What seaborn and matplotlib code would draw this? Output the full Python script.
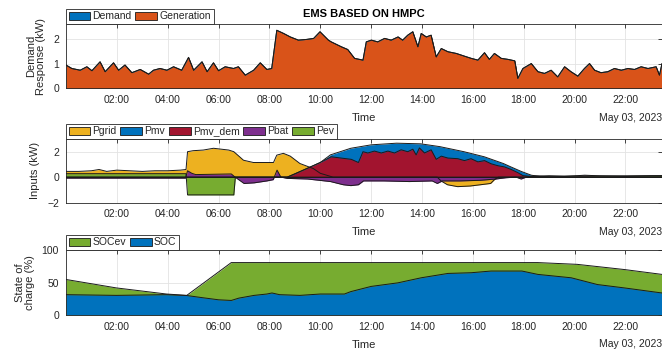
import numpy as np
import matplotlib
matplotlib.use("Agg")
import matplotlib.pyplot as plt
from matplotlib.patches import Patch
from matplotlib.ticker import FixedLocator, FuncFormatter
import seaborn as sns

# ------------------------------------------
# data (hours of May 03, 2023)
# ------------------------------------------
x_end = 23.44

# demand response panel
gen_t = [0.0, 0.23, 0.56, 0.82, 1.02, 1.34, 1.54, 1.87, 2.07, 2.32,
         2.59, 2.92, 3.25, 3.44, 3.70, 3.97, 4.23, 4.55, 4.82, 5.02,
         5.35, 5.55, 5.80, 6.00, 6.26, 6.59, 6.78, 7.05, 7.38, 7.64,
         7.90, 8.09, 8.29, 8.56, 8.82, 9.14, 9.47, 9.74, 9.99, 10.32,
         10.43, 10.83, 11.08, 11.35, 11.68, 11.81, 12.01, 12.26, 12.53, 12.79,
         13.06, 13.24, 13.44, 13.64, 13.84, 13.97, 14.17, 14.36, 14.56, 14.76,
         15.02, 15.35, 15.67, 15.94, 16.20, 16.46, 16.65, 16.85, 17.12, 17.38,
         17.65, 17.77, 17.97, 18.30, 18.56, 18.82, 19.08, 19.34, 19.61, 19.86,
         20.13, 20.39, 20.59, 20.79, 21.04, 21.31, 21.57, 21.84, 22.10, 22.36,
         22.62, 22.89, 23.21, 23.34, 23.44]
gen_kw = [0.95, 0.81, 0.74, 0.88, 0.72, 1.08, 0.68, 1.04, 0.74, 0.95,
          0.64, 0.77, 0.58, 0.74, 0.81, 0.74, 0.88, 0.74, 1.26, 0.74,
          1.08, 0.68, 1.04, 0.72, 0.88, 0.81, 0.88, 0.54, 0.74, 1.04,
          0.77, 0.81, 2.36, 2.23, 2.09, 1.96, 1.99, 2.03, 2.30, 1.96,
          1.89, 1.69, 1.58, 1.22, 1.15, 1.89, 1.96, 1.89, 2.03, 1.96,
          2.09, 1.96, 2.16, 2.30, 1.69, 2.23, 2.09, 2.16, 1.28, 1.62,
          1.49, 1.42, 1.31, 1.22, 1.15, 1.45, 1.18, 1.42, 1.22, 1.18,
          1.12, 0.41, 0.81, 1.01, 0.68, 0.61, 0.74, 0.47, 0.88, 0.68,
          0.50, 0.81, 1.01, 0.74, 0.64, 0.68, 0.81, 0.74, 0.81, 0.77,
          0.88, 0.81, 0.88, 0.54, 1.01]
demand_kw = gen_kw  # hidden under generation in the original

# inputs panel
pgrid_t = [0, 0.5, 1.0, 1.3, 1.6, 2.0, 2.5, 3.0, 3.5, 4.0,
           4.5, 4.72, 4.78, 5.0, 5.4, 5.8, 6.1, 6.4, 6.6, 6.98,
           7.37, 8.16, 8.29, 8.55, 8.82, 9.2, 9.73, 10.0, 10.5, 14.6,
           14.75, 15.0, 15.4, 15.9, 16.3, 16.7, 16.85, 17.0, 23.44]
pgrid_kw = [0.45, 0.45, 0.5, 0.6, 0.45, 0.55, 0.5, 0.45, 0.5, 0.5,
            0.55, 0.6, 2.0, 2.08, 2.13, 2.27, 2.2, 2.13, 2.0, 1.33,
            1.15, 1.15, 1.73, 1.87, 1.65, 1.07, 0.67, 0.3, 0.0, 0.0,
            -0.3, -0.6, -0.75, -0.7, -0.6, -0.5, -0.2, 0.0, 0.0]

pmv_t = [0, 8.7, 9.5, 10.0, 10.4, 11.2, 12.0, 13.0, 13.95, 14.7,
         15.65, 16.45, 17.2, 17.5, 17.9, 18.3, 18.7, 19.0, 23.44]
pmv_kw = [0, 0, 0.7, 1.15, 1.75, 2.27, 2.54, 2.67, 2.62, 2.4,
          2.0, 1.6, 1.07, 0.8, 0.45, 0.15, 0.03, 0, 0]

pdem_t = [0, 8.7, 9.0, 9.5, 10.0, 10.43, 10.82, 11.22, 11.5, 11.68,
          11.87, 12.13, 12.4, 12.66, 12.92, 13.18, 13.44, 13.64, 13.77, 13.9,
          14.1, 14.36, 14.56, 14.76, 15.02, 15.41, 15.67, 15.93, 16.2, 16.46,
          16.72, 16.98, 17.25, 17.51, 17.77, 17.97, 18.3, 18.82, 23.44]
pdem_kw = [0, 0, 0.25, 0.7, 1.15, 1.6, 1.5, 1.4, 1.15, 2.0,
           1.9, 2.05, 1.9, 2.05, 1.9, 2.15, 2.0, 2.2, 1.75, 2.3,
           1.9, 2.15, 1.4, 1.65, 1.5, 1.45, 1.3, 1.45, 1.2, 1.3,
           1.05, 0.9, 0.8, 0.6, 0.35, 0.12, 0.05, 0.0, 0.0]

pbat_t = [0, 4.7, 4.78, 4.95, 5.1, 6.5, 6.65, 7.0, 7.4, 7.9,
          8.15, 8.3, 8.45, 8.7, 9.5, 10.4, 10.9, 11.2, 11.5, 11.7,
          12.5, 13.5, 14.4, 14.6, 14.8, 15.5, 16.3, 16.9, 17.3, 17.7,
          17.9, 18.1, 18.4, 19.0, 19.6, 20.4, 21.0, 22.0, 23.0, 23.44]
pbat_kw = [-0.08, -0.08, 0.5, 0.3, 0.2, 0.25, 0.0, -0.5, -0.45, -0.3,
           -0.2, 0.55, 0.0, -0.1, -0.15, -0.35, -0.6, -0.67, -0.6, -0.3,
           -0.3, -0.35, -0.3, -0.5, -0.3, -0.3, -0.25, -0.15, -0.05, 0.0,
           -0.15, 0.0, 0.1, 0.1, 0.05, 0.15, 0.1, 0.05, 0.1, 0.1]

pev_t = [0, 4.72, 4.78, 6.6, 6.66, 18.5, 19.0, 23.44]
pev_kw = [0.27, 0.27, -1.4, -1.4, 0.0, 0.0, 0.08, 0.12]

# state of charge panel
socev_t = [0, 1.98, 3.95, 4.75, 6.5, 18.55, 20.1, 21.96, 23.44]
socev_pct = [54.7, 41.7, 32.3, 30.2, 80.7, 80.7, 78, 70, 62.5]

soc_t = [0, 1.98, 3.95, 4.75, 5.3, 6.0, 6.5, 6.8, 7.4, 7.9,
         8.1, 8.4, 9.2, 10.0, 10.43, 10.95, 11.2, 12.0, 13.05, 13.97,
         15.02, 15.94, 16.72, 17.93, 18.56, 19.87, 20.9, 21.96, 23.44]
soc_pct = [31.3, 30.2, 31.3, 30.0, 27.0, 23.4, 22.4, 26.0, 30.2, 32.3,
           33.9, 31.3, 30.2, 32.3, 32.3, 32.3, 36.0, 44.0, 49.5, 57.3,
           64.0, 65.1, 67.7, 67.7, 62.5, 57.3, 46.9, 41.7, 33.9]

# MATLAB default colours
c_blue, c_orange, c_yellow = "#0072BD", "#D95319", "#EDB120"
c_purple, c_green, c_red = "#7E2F8E", "#77AC30", "#A2142F"
txt = "#262626"

# ------------------------------------------
# style
# ------------------------------------------
sns.set_style("white")
plt.rcParams["font.family"] = ["Liberation Sans", "DejaVu Sans"]
plt.rcParams["axes.edgecolor"] = txt
plt.rcParams["axes.linewidth"] = 0.6


def area(ax, t, v, color):
    ax.fill_between(t, 0, v, color=color, lw=0, zorder=2)
    sns.lineplot(x=t, y=v, color="#1a1a1a", lw=0.7, ax=ax, zorder=3,
                 legend=False)


def style_axis(ax, ylim, yticks, ylabel, labels, colors):
    ax.set_xlim(0, x_end)
    ax.set_ylim(*ylim)
    ax.axhline(0, color="#1a1a1a", lw=0.7, zorder=3)
    ax.xaxis.set_major_locator(FixedLocator(range(2, 24, 2)))
    ax.xaxis.set_major_formatter(FuncFormatter(lambda h, p: f"{int(h):02d}:00"))
    ax.set_yticks(yticks)
    ax.grid(True, color="#e3e3e3", lw=0.6)
    ax.set_axisbelow(True)
    ax.tick_params(direction="in", top=True, right=True, length=3, width=0.6,
                   labelsize=7.5, colors=txt, pad=5)
    ax.set_xlabel("Time", fontsize=8, color=txt, labelpad=5.5)
    ax.set_ylabel(ylabel, fontsize=8, color=txt, labelpad=5, linespacing=1.0)
    ax.annotate("May 03, 2023", xy=(1, 0), xycoords="axes fraction",
                xytext=(0, -17.5), textcoords="offset points",
                ha="right", va="top", fontsize=7.5, color=txt)
    handles = [Patch(facecolor=c, edgecolor="#1a1a1a", lw=0.6) for c in colors]
    leg = ax.legend(handles, labels, loc="lower left", bbox_to_anchor=(0, 1),
                    borderaxespad=0, ncol=len(labels), fontsize=7.5,
                    handlelength=2.1, handleheight=0.85, handletextpad=0.2,
                    columnspacing=0.35, borderpad=0.25, fancybox=False,
                    framealpha=1)
    leg.get_frame().set_edgecolor(txt)
    leg.get_frame().set_linewidth(0.6)
    for s in ax.spines.values():
        s.set_visible(True)


fig = plt.figure(figsize=(6.62, 3.51), dpi=100)
ax1 = fig.add_axes([0.0997, 0.748, 0.9003, 0.184])
ax2 = fig.add_axes([0.0997, 0.423, 0.9003, 0.181])
ax3 = fig.add_axes([0.0997, 0.1026, 0.9003, 0.185])

# panel 1
area(ax1, gen_t, demand_kw, c_blue)
area(ax1, gen_t, gen_kw, c_orange)
style_axis(ax1, (0, 2.62), [0, 1, 2], "Demand\nResponse (kW)",
           ["Demand", "Generation"], [c_blue, c_orange])
ax1.set_title("EMS BASED ON HMPC", fontsize=8, fontweight="bold",
              color="black", pad=5)

# panel 2
area(ax2, pgrid_t, pgrid_kw, c_yellow)
area(ax2, pmv_t, pmv_kw, c_blue)
area(ax2, pdem_t, pdem_kw, c_red)
area(ax2, pbat_t, pbat_kw, c_purple)
area(ax2, pev_t, pev_kw, c_green)
style_axis(ax2, (-2, 3), [-2, 0, 2], "Inputs (kW)",
           ["Pgrid", "Pmv", "Pmv_dem", "Pbat", "Pev"],
           [c_yellow, c_blue, c_red, c_purple, c_green])

# panel 3
area(ax3, socev_t, socev_pct, c_green)
area(ax3, soc_t, soc_pct, c_blue)
style_axis(ax3, (0, 100), [0, 50, 100], "State of\ncharge (%)",
           ["SOCev", "SOC"], [c_green, c_blue])

fig.savefig("out.png", dpi=100, facecolor="white")
